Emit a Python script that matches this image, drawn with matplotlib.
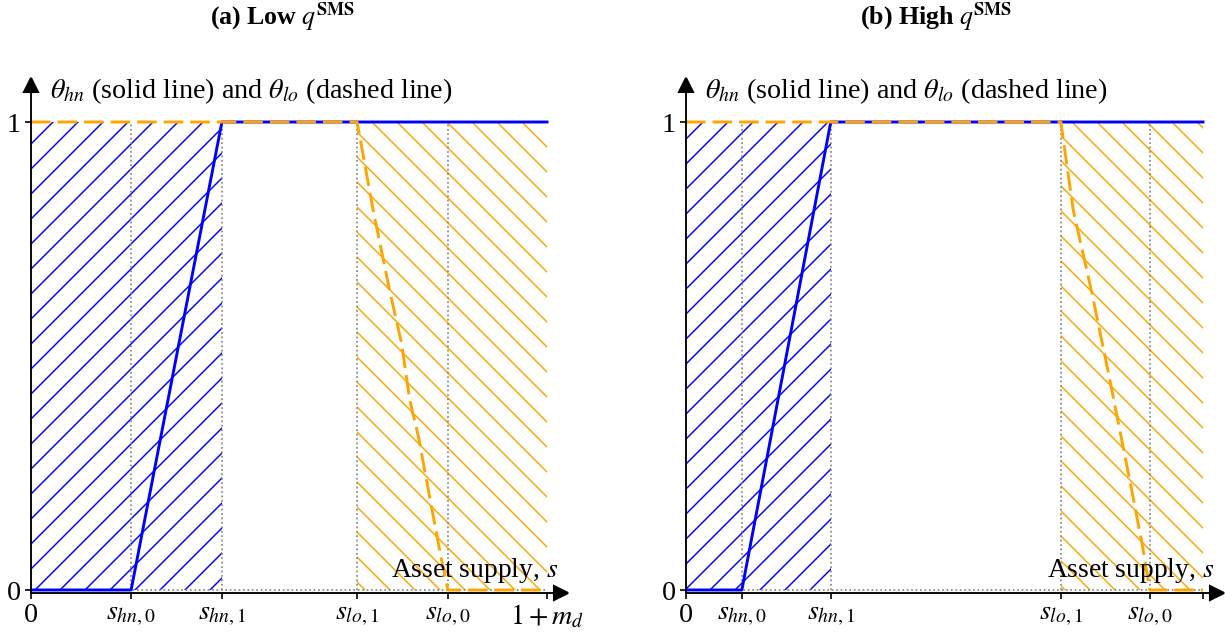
import matplotlib.pyplot as plt
import numpy as np

# ---- data (x in units of 1 + m_d) ----
titles = [r"(a) Low $q^{\mathbf{SMS}}$", r"(b) High $q^{\mathbf{SMS}}$"]

# panel (a)
a_ticks = [0, 0.194, 0.370, 0.632, 0.808, 1.0]
a_ticklabels = ["0", r"$s_{hn,0}$", r"$s_{hn,1}$", r"$s_{lo,1}$", r"$s_{lo,0}$", r"$1+m_d$"]
a_hn_x = [0, 0.194, 0.370, 1.0]
a_hn_y = [0, 0, 1, 1]
a_lo_x = [0, 0.632, 0.663, 0.696, 0.718, 0.734, 0.751, 0.770, 0.793, 0.808, 1.0]
a_lo_y = [1, 1, 0.812, 0.635, 0.528, 0.406, 0.327, 0.214, 0.079, 0, 0]

# panel (b)
b_ticks = [0, 0.108, 0.280, 0.725, 0.897, 1.0]
b_ticklabels = ["0", r"$s_{hn,0}$", r"$s_{hn,1}$", r"$s_{lo,1}$", r"$s_{lo,0}$", ""]
b_hn_x = [0, 0.108, 0.280, 1.0]
b_hn_y = [0, 0, 1, 1]
b_lo_x = [0, 0.725, 0.749, 0.785, 0.817, 0.839, 0.862, 0.882, 0.897, 1.0]
b_lo_y = [1, 1, 0.812, 0.635, 0.464, 0.342, 0.214, 0.100, 0, 0]

plt.rcParams['font.family'] = ['Liberation Serif', 'DejaVu Serif']
plt.rcParams['mathtext.fontset'] = 'stix'
plt.rcParams['hatch.linewidth'] = 0.7

BLUE = '#0000ff'
ORANGE = '#ffa500'
FS = 13.5

DPI = 150
W, H = 1225, 634
fig = plt.figure(figsize=(W / DPI, H / DPI), dpi=DPI)

# axes placement (pixels): y=0 at 590, y=1 at 122
XMAX, YMIN, YMAX = 1.027, -0.006, 1.079
y_px = 468
bottom = (H - (590 - YMIN * y_px)) / H
height = (YMAX - YMIN) * y_px / H
x0_px = [31, 686]
x_px = [516, 517]

panels = [
    (a_ticks, a_ticklabels, a_hn_x, a_hn_y, a_lo_x, a_lo_y),
    (b_ticks, b_ticklabels, b_hn_x, b_hn_y, b_lo_x, b_lo_y),
]
title_x = [283 / W, 936 / W]

for i, (ticks, labels, hn_x, hn_y, lo_x, lo_y) in enumerate(panels):
    ax = fig.add_axes([x0_px[i] / W, bottom, XMAX * x_px[i] / W, height])
    ax.set_xlim(0, XMAX)
    ax.set_ylim(YMIN, YMAX)

    s_hn1, s_lo1, end = ticks[2], ticks[3], ticks[-1]

    # hatched regions
    ax.fill_between([0, s_hn1], 0, 1, facecolor='none', edgecolor=BLUE,
                    hatch='//', linewidth=0)
    ax.fill_between([s_lo1, end], 0, 1, facecolor='none', edgecolor=ORANGE,
                    hatch='\\\\', linewidth=0)

    # dotted guides
    for t in ticks[1:5]:
        ax.plot([t, t], [0, 1], color='gray', linestyle=':', linewidth=0.8)
    ax.plot([0, end], [0, 0], color='gray', linestyle=':', linewidth=0.8)

    # theta lines
    ax.plot(hn_x, hn_y, color=BLUE, linewidth=1.4)
    ax.plot(lo_x, lo_y, color=ORANGE, linewidth=1.4, dashes=(6.7, 2.4))

    # axes with arrows
    for side in ['top', 'right']:
        ax.spines[side].set_visible(False)
    ax.spines['left'].set_linewidth(0.9)
    ax.spines['bottom'].set_linewidth(0.9)
    ax.plot(1, 0, '>k', markersize=6.5, transform=ax.transAxes, clip_on=False)
    ax.plot(0, 1, '^k', markersize=6.5, transform=ax.transAxes, clip_on=False)

    ax.set_xticks(ticks)
    ax.set_xticklabels(labels, fontsize=FS)
    ax.set_yticks([0, 1])
    ax.set_yticklabels(['0', '1'], fontsize=FS)
    ax.tick_params(direction='out', length=3, width=0.8, pad=2)

    ax.text(0.037, 1.05, r"$\theta_{hn}$ (solid line) and $\theta_{lo}$ (dashed line)",
            fontsize=FS, ha='left', va='baseline')
    ax.text(1.022, 0.028, r"Asset supply, $s$", fontsize=13.2, ha='right',
            va='baseline')

    fig.text(title_x[i], 1 - 25 / H, titles[i], fontsize=12.4, fontweight='bold',
             ha='center', va='baseline')

plt.savefig('out.png', dpi=DPI)
